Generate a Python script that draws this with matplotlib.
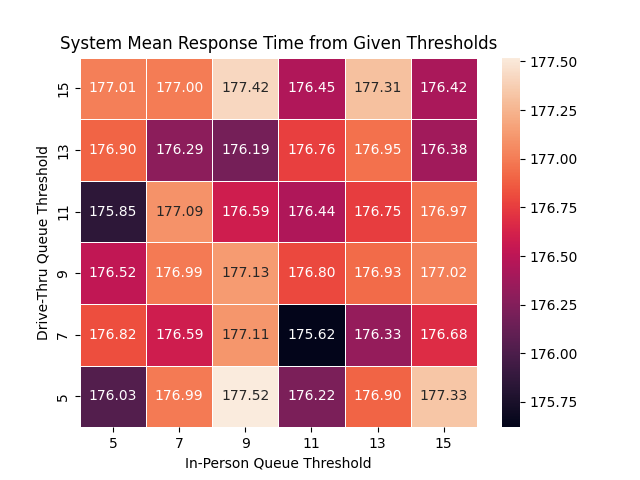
import matplotlib
matplotlib.use("Agg")
import matplotlib.pyplot as plt
import numpy as np
import pandas as pd
import seaborn as sns

in_person_thresholds = [5, 7, 9, 11, 13, 15]
drive_thru_thresholds = [15, 13, 11, 9, 7, 5]

row_15 = [177.01, 177.00, 177.42, 176.45, 177.31, 176.42]
row_13 = [176.90, 176.29, 176.19, 176.76, 176.95, 176.38]
row_11 = [175.85, 177.09, 176.59, 176.44, 176.75, 176.97]
row_9 = [176.52, 176.99, 177.13, 176.80, 176.93, 177.02]
row_7 = [176.82, 176.59, 177.11, 175.62, 176.33, 176.68]
row_5 = [176.03, 176.99, 177.52, 176.22, 176.90, 177.33]

mean_response = pd.DataFrame(
    [row_15, row_13, row_11, row_9, row_7, row_5],
    index=drive_thru_thresholds,
    columns=in_person_thresholds,
)

fig, ax = plt.subplots(figsize=(6.4, 4.8), dpi=100)
sns.heatmap(mean_response, annot=True, fmt=".2f", linewidths=0.5,
            linecolor="white", ax=ax)
ax.set_title("System Mean Response Time from Given Thresholds")
ax.set_xlabel("In-Person Queue Threshold")
ax.set_ylabel("Drive-Thru Queue Threshold")
plt.setp(ax.get_yticklabels(), rotation=90, va="center")
fig.savefig("out.png")
